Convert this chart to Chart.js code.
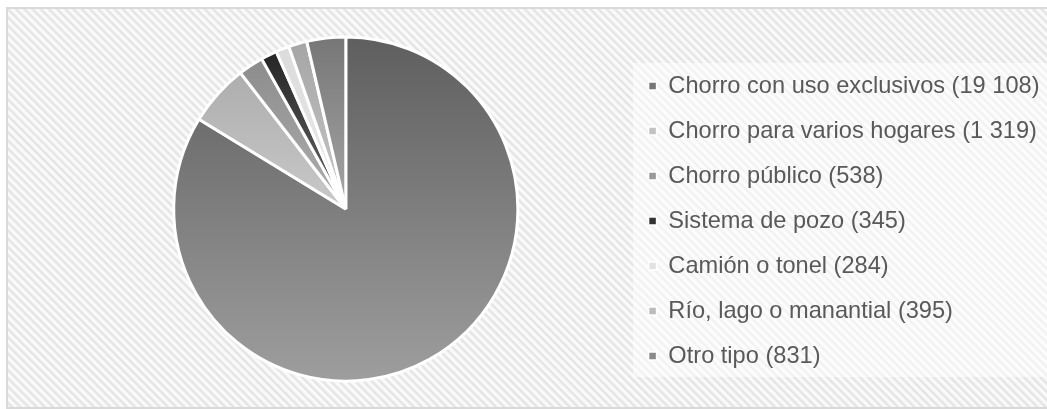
<!DOCTYPE html>
<html>
<head>
<meta charset="utf-8">
<script src="https://cdn.jsdelivr.net/npm/chart.js@4"></script>
<style>
  html, body { margin: 0; padding: 0; background: #ffffff; }
  #wrap { position: relative; width: 1047px; height: 409px; overflow: hidden; background: #ffffff; }
  #frame {
    position: absolute; left: 6px; top: 7px; width: 1100px; height: 398px;
    border: 2px solid #d9d9d9;
    background: repeating-linear-gradient(45deg, #fdfdfd 0px, #f3f3f3 1.4px, #e0e0e0 2.9px, #f3f3f3 4.4px, #fdfdfd 5.8px);
  }
  #legbg { position: absolute; left: 633px; top: 63px; width: 420px; height: 314px; background: rgba(255,255,255,0.5); }
  #c { position: absolute; left: 0; top: 0; }
</style>
</head>
<body>
<div id="wrap">
  <div id="frame"></div>
  <div id="legbg"></div>
  <canvas id="c" width="1047" height="409"></canvas>
</div>
<script>
const categories = ['Chorro con uso exclusivos', 'Chorro para varios hogares', 'Chorro público', 'Sistema de pozo', 'Camión o tonel', 'Río, lago o manantial', 'Otro tipo'];
const values = [19108, 1319, 538, 345, 284, 395, 831];

const gradTop    = ['#5e5e5e', '#a6a6a6', '#868686', '#1e1e1e', '#dadada', '#a4a4a4', '#767676'];
const gradMid    = ['#7e7e7e', '#c9c9c9', '#b0b0b0', '#6a6a6a', '#ececec', '#c8c8c8', '#a6a6a6'];
const gradBottom = ['#9e9e9e', '#c9c9c9', '#b0b0b0', '#6a6a6a', '#ececec', '#c8c8c8', '#a6a6a6'];
const markerColors = ['#777777', '#c2c2c2', '#999999', '#333333', '#e2e2e2', '#bbbbbb', '#8a8a8a'];

function fmt(n) { return String(n).replace(/\B(?=(\d{3})+(?!\d))/g, ' '); }

const shiftLegend = {
  id: 'shiftLegend',
  afterLayout(chart) {
    const l = chart.legend;
    if (l) { l.top += 12; l.bottom += 12; l.left += 9; l.right += 9; }
  }
};

new Chart(document.getElementById('c'), {
  type: 'pie',
  data: {
    labels: categories,
    datasets: [{
      data: values,
      backgroundColor(ctx) {
        const chart = ctx.chart, area = chart.chartArea, i = ctx.dataIndex;
        if (!area) return markerColors[i];
        const g = chart.ctx.createLinearGradient(0, area.top, 0, area.bottom);
        g.addColorStop(0, gradTop[i]);
        g.addColorStop(0.5, gradMid[i]);
        g.addColorStop(1, gradBottom[i]);
        return g;
      },
      borderColor: '#ffffff',
      borderWidth: 3,
      hoverOffset: 0
    }]
  },
  options: {
    responsive: false,
    animation: false,
    layout: { padding: { left: 73.4, right: 6.5, top: 35.4, bottom: 26.4 } },
    plugins: {
      tooltip: { enabled: false },
      legend: {
        position: 'right',
        labels: {
          boxWidth: 8,
          boxHeight: 8,
          padding: 21.4,
          color: '#595959',
          font: { family: '"Liberation Sans", Arial, sans-serif', size: 23.6 },
          generateLabels(chart) {
            return categories.map((c, i) => ({
              text: c + ' (' + fmt(values[i]) + ')',
              fillStyle: markerColors[i],
              strokeStyle: '#ffffff',
              lineWidth: 1.5,
              fontColor: '#595959',
              hidden: false,
              index: i
            }));
          }
        }
      }
    }
  },
  plugins: [shiftLegend]
});
</script>
</body>
</html>
